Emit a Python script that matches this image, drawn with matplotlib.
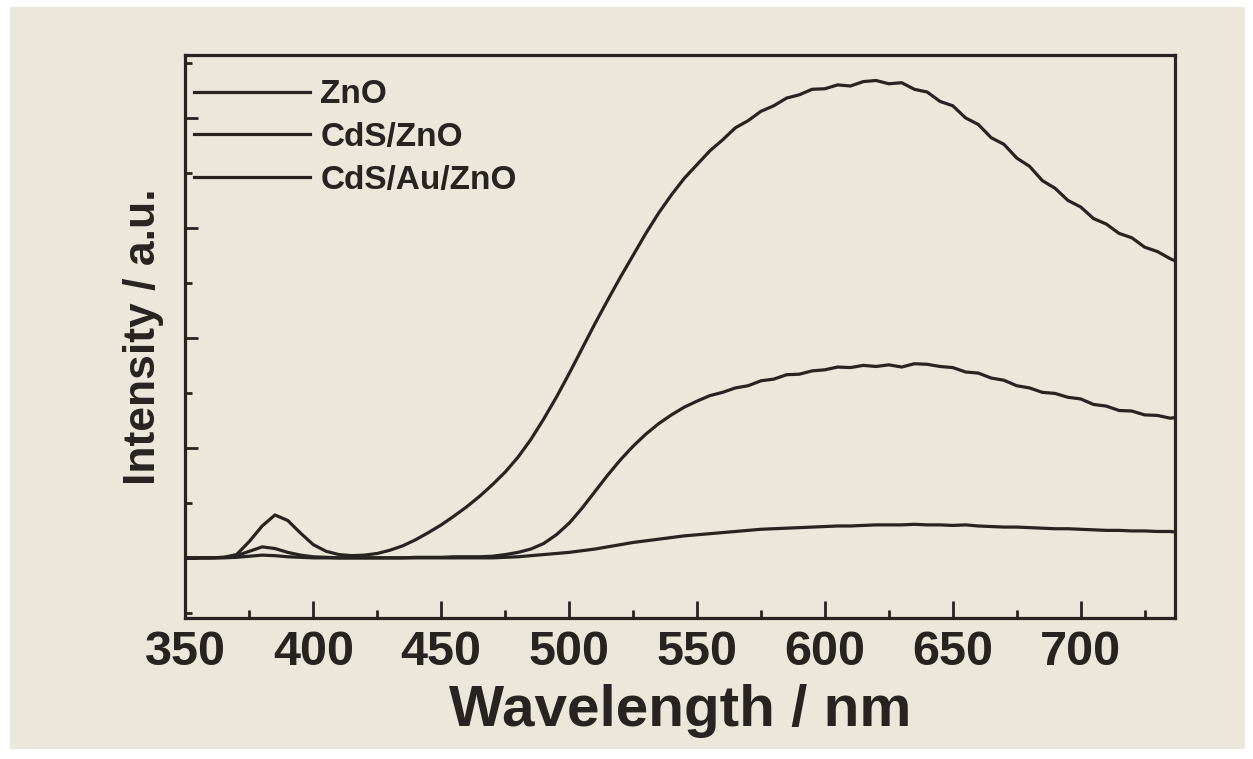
import numpy as np
import matplotlib.pyplot as plt
from matplotlib.ticker import MultipleLocator, NullFormatter
from matplotlib.patches import Rectangle

# wavelength grid (nm), 5 nm steps
wl = list(range(350, 740, 5)) + [737]

zno = [0, 0, 0, 0.01, 0.06, 0.3, 0.58, 0.78, 0.68, 0.45,
       0.24, 0.12, 0.06, 0.04, 0.05, 0.08, 0.14, 0.22, 0.33, 0.46,
       0.6, 0.76, 0.93, 1.12, 1.33, 1.56, 1.83, 2.15, 2.52, 2.92,
       3.35, 3.8, 4.25, 4.68, 5.1, 5.5, 5.9, 6.27, 6.6, 6.9,
       7.15, 7.4, 7.6, 7.82, 7.95, 8.12, 8.22, 8.36, 8.42, 8.52,
       8.53, 8.6, 8.58, 8.66, 8.68, 8.62, 8.64, 8.52, 8.47, 8.3,
       8.22, 8.0, 7.88, 7.64, 7.52, 7.27, 7.12, 6.86, 6.72, 6.5,
       6.38, 6.17, 6.07, 5.9, 5.82, 5.65, 5.57, 5.44, 5.4]

cds_zno = [0, 0, 0, 0.01, 0.04, 0.12, 0.2, 0.17, 0.1, 0.05,
           0.02, 0.01, 0.0, 0.0, 0.0, 0.0, 0.0, 0.0, 0.01, 0.01,
           0.01, 0.02, 0.02, 0.02, 0.03, 0.06, 0.1, 0.16, 0.26, 0.42,
           0.63, 0.9, 1.2, 1.5, 1.78, 2.03, 2.25, 2.44, 2.6, 2.74,
           2.85, 2.95, 3.01, 3.09, 3.13, 3.22, 3.25, 3.33, 3.34, 3.4,
           3.42, 3.47, 3.46, 3.5, 3.48, 3.51, 3.47, 3.53, 3.52, 3.48,
           3.46, 3.38, 3.36, 3.27, 3.23, 3.13, 3.09, 3.01, 2.99, 2.92,
           2.89, 2.79, 2.76, 2.68, 2.67, 2.6, 2.59, 2.54, 2.55]

cds_au_zno = [0, 0, 0, 0, 0.01, 0.03, 0.05, 0.04, 0.02, 0.01,
              0, 0, 0, 0, 0, 0, 0, 0, 0, 0,
              0, 0, 0, 0, 0, 0.01, 0.02, 0.04, 0.06, 0.08,
              0.1, 0.13, 0.16, 0.2, 0.24, 0.28, 0.31, 0.34, 0.37, 0.4,
              0.42, 0.44, 0.46, 0.48, 0.5, 0.52, 0.53, 0.54, 0.55, 0.56,
              0.57, 0.58, 0.58, 0.59, 0.6, 0.6, 0.6, 0.61, 0.6, 0.6,
              0.59, 0.6, 0.58, 0.57, 0.56, 0.56, 0.55, 0.54, 0.53, 0.53,
              0.52, 0.51, 0.5, 0.5, 0.49, 0.49, 0.48, 0.48, 0.47]

labels = ["ZnO", "CdS/ZnO", "CdS/Au/ZnO"]
xticks = [350, 400, 450, 500, 550, 600, 650, 700]

paper = "#ebe7da"
ink = "#262320"

plt.rcParams['font.family'] = ['Liberation Sans', 'DejaVu Sans']
plt.rcParams['font.weight'] = 'bold'

fig = plt.figure(figsize=(12.53, 7.59), dpi=100, facecolor='white')
fig.patches.append(Rectangle((10 / 1253, 10 / 759), 1235 / 1253, 742 / 759,
                             transform=fig.transFigure, facecolor=paper,
                             edgecolor='none', zorder=-10))

ax = fig.add_axes([0.148, 0.186, 0.79, 0.742])
ax.set_facecolor(paper)

for y, lab in zip([zno, cds_zno, cds_au_zno], labels):
    ax.plot(wl, y, color=ink, lw=2.3, label=lab)

ax.set_xlim(350, 737)
ax.set_ylim(-1.09, 9.15)

ax.set_xticks(xticks)
ax.xaxis.set_minor_locator(MultipleLocator(25))
ax.yaxis.set_major_locator(MultipleLocator(2))
ax.yaxis.set_minor_locator(MultipleLocator(1))
ax.yaxis.set_major_formatter(NullFormatter())

ax.tick_params(axis='x', which='major', direction='in', length=12, width=2,
               labelsize=35, pad=9, colors=ink)
ax.tick_params(axis='x', which='minor', direction='in', length=6, width=2, colors=ink)
ax.tick_params(axis='y', which='major', direction='in', length=9, width=2, colors=ink)
ax.tick_params(axis='y', which='minor', direction='in', length=5, width=2, colors=ink)
for lbl in ax.get_xticklabels():
    lbl.set_fontweight('bold')

for sp in ax.spines.values():
    sp.set_linewidth(2.3)
    sp.set_color(ink)

ax.set_xlabel("Wavelength / nm", fontsize=42, fontweight='bold', color=ink, labelpad=6)
ax.set_ylabel("Intensity / a.u.", fontsize=32, fontweight='bold', color=ink, labelpad=12)

leg = ax.legend(loc='upper left', bbox_to_anchor=(-0.005, 0.98), frameon=False,
                handlelength=3.5, handletextpad=0.3, borderaxespad=0.0,
                labelspacing=0.35, prop={'size': 24, 'weight': 'bold'})
for t in leg.get_texts():
    t.set_color(ink)

fig.savefig("out.png", dpi=100, facecolor=fig.get_facecolor())
